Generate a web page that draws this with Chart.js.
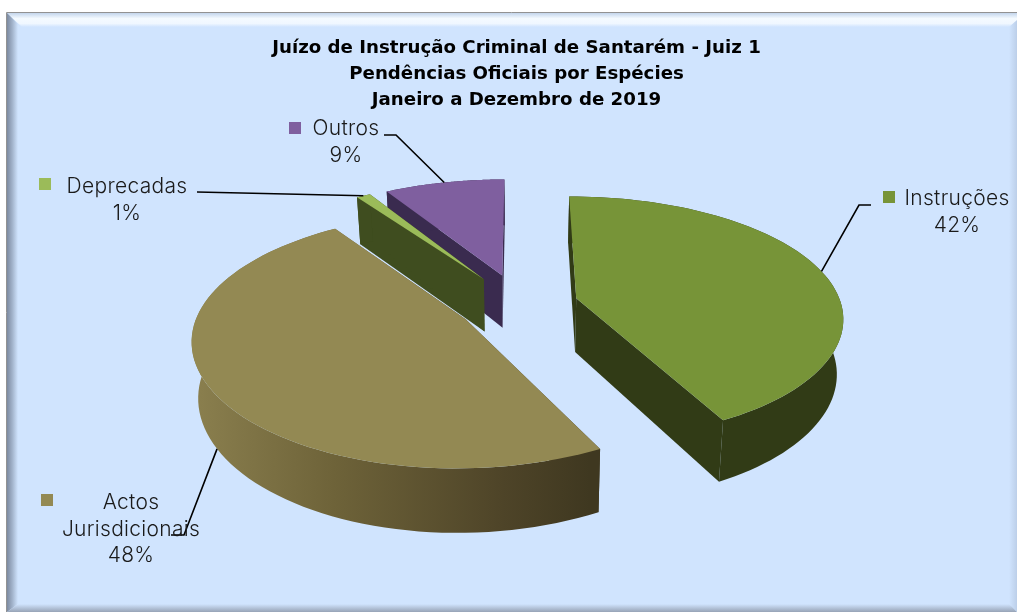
<!DOCTYPE html>
<html>
<head>
<meta charset="utf-8">
<title>Pendências Oficiais por Espécies</title>
<script src="https://cdn.jsdelivr.net/npm/chart.js@4"></script>
<style>
html, body { margin: 0; padding: 0; background: #fff; }
canvas { display: block; }
</style>
</head>
<body>
<canvas id="pie" width="1017" height="614"></canvas>
<script>
const titleLines = ['Juízo de Instrução Criminal de Santarém - Juiz 1', 'Pendências Oficiais por Espécies', 'Janeiro a Dezembro de 2019'];
const categories = ['Instruções', 'Actos Jurisdicionais', 'Deprecadas', 'Outros'];
const percentages = [42.4, 48.0, 1.0, 8.6];
const explosion = [22, 23.5, 26, 26];   // percent of radius, like excel
const topColors = ['#779438', '#938953', '#9bbb59', '#7f5f9f'];
const wallColors = ['#313b16', null, '#3f4d1f', '#3a2b4f'];

// label text lines, marker and leader line for each slice
const labelLines = [['Instruções'], ['Actos', 'Jurisdicionais'], ['Deprecadas'], ['Outros']];
const labelCenter = [[957, 199], [131, 503], [127, 187], [346, 129]];
const markerPos = [[883, 191], [41, 494], [39, 178], [289, 122]];
const leaderStart = [[[871, 205], [859, 205]], [[171, 535], [184, 535]], [[197, 192]], [[384, 135], [396, 135]]];

// camera for the 3d look
const camX = 520, camY = 304.5, camK = 265, camKy = 120, camP = 0.145, camPy = 0.16, camDepth = 54;

function project(X, Y, bottom) {
    var w = 1 + camP * Y;
    var x = camX + camK * X / w;
    var y = camY - camKy * Y / (1 + camPy * Y);
    if (bottom) {
        x = camX + (x - camX) * 0.98;
        y += camDepth / w;
    }
    return [x, y];
}

function sliceOutline(el) {
    var mid = (el.startAngle + el.endAngle) / 2;
    var e = el.options.offset / 100;
    var ox = e * Math.cos(mid), oy = -e * Math.sin(mid);
    var pts = [[ox, oy]];
    var steps = 80;
    for (var i = 0; i <= steps; i++) {
        var a = el.startAngle + (el.endAngle - el.startAngle) * i / steps;
        pts.push([ox + Math.cos(a), oy - Math.sin(a)]);
    }
    return pts;
}

function polygon(ctx, pts) {
    ctx.beginPath();
    ctx.moveTo(pts[0][0], pts[0][1]);
    for (var i = 1; i < pts.length; i++) ctx.lineTo(pts[i][0], pts[i][1]);
    ctx.closePath();
}

function hGrad(ctx, x0, x1, stops) {
    var g = ctx.createLinearGradient(x0, 0, x1, 0);
    stops.forEach((s) => g.addColorStop(s[0], s[1]));
    return g;
}

function vGrad(ctx, y0, y1, stops) {
    var g = ctx.createLinearGradient(0, y0, 0, y1);
    stops.forEach((s) => g.addColorStop(s[0], s[1]));
    return g;
}

const framePlugin = {
    id: 'frame',
    beforeDraw(chart) {
        var ctx = chart.ctx;
        ctx.save();
        ctx.fillStyle = '#fff';
        ctx.fillRect(0, 0, 1017, 614);
        ctx.fillStyle = '#d0e4fe';
        ctx.fillRect(7, 13, 1010, 599);

        ctx.fillStyle = vGrad(ctx, 13, 27, [[0, '#c4d6ec'], [0.4, '#f4faff'], [0.75, '#f0f7ff'], [1, '#d0e4fe']]);
        polygon(ctx, [[7, 13], [1017, 13], [1017, 27], [22, 27]]);
        ctx.fill();

        ctx.fillStyle = hGrad(ctx, 7, 18, [[0, '#7c8aa0'], [0.5, '#a3b4cc'], [1, '#d0e4fe']]);
        polygon(ctx, [[7, 13], [18, 24], [18, 604], [7, 612]]);
        ctx.fill();

        ctx.fillStyle = vGrad(ctx, 604, 612, [[0, '#d0e4fe'], [1, '#97a3b6']]);
        polygon(ctx, [[7, 612], [18, 604], [1010, 604], [1017, 612]]);
        ctx.fill();

        ctx.fillStyle = hGrad(ctx, 1009, 1017, [[0, '#d0e4fe'], [1, '#bccfe9']]);
        polygon(ctx, [[1009, 27], [1017, 20], [1017, 612], [1009, 604]]);
        ctx.fill();

        ctx.strokeStyle = '#929292';
        ctx.lineWidth = 1;
        ctx.beginPath();
        ctx.moveTo(6.5, 612);
        ctx.lineTo(6.5, 12.5);
        ctx.lineTo(1017, 12.5);
        ctx.stroke();
        ctx.restore();
    }
};

const pie3dPlugin = {
    id: 'pie3d',
    beforeDatasetsDraw(chart) {
        var ctx = chart.ctx;
        var arcs = chart.getDatasetMeta(0).data;
        var outlines = arcs.map(sliceOutline);
        // far slices first
        var order = arcs.map((el, i) => i).sort((a, b) => outlines[b][0][1] - outlines[a][0][1]);
        ctx.save();
        order.forEach((i) => {
            var pts = outlines[i];
            var apex = pts[0], rim = pts.slice(1);
            var wall = wallColors[i] || hGrad(ctx, 195, 590, [[0, '#8a7f4e'], [0.35, '#6e6339'], [0.78, '#4e4428'], [1, '#3f3820']]);
            ctx.fillStyle = wall;
            // two flat cut faces, then the curved band in one go so there are no seams
            [rim[0], rim[rim.length - 1]].forEach((p) => {
                polygon(ctx, [project(apex[0], apex[1]), project(p[0], p[1]), project(p[0], p[1], true), project(apex[0], apex[1], true)]);
                ctx.fill();
            });
            var band = rim.map((p) => project(p[0], p[1]));
            rim.slice().reverse().forEach((p) => band.push(project(p[0], p[1], true)));
            polygon(ctx, band);
            ctx.fill();

            ctx.fillStyle = arcs[i].options.backgroundColor;
            polygon(ctx, pts.map((p) => project(p[0], p[1])));
            ctx.fill();
        });
        drawLabels(chart, arcs);
        ctx.restore();
        return false;
    }
};

function drawLabels(chart, arcs) {
    var ctx = chart.ctx;
    var total = percentages.reduce((a, b) => a + b, 0);
    arcs.forEach((el, i) => {
        // leader line ends on the rim, at the middle of the slice
        var mid = (el.startAngle + el.endAngle) / 2;
        var e = el.options.offset / 100;
        var X = (1 + e) * Math.cos(mid), Y = -(1 + e) * Math.sin(mid);
        var tip = project(X, Y, i == 1);
        var line = leaderStart[i].concat([tip]);
        ctx.strokeStyle = '#000';
        ctx.lineWidth = 1.6;
        ctx.beginPath();
        ctx.moveTo(line[0][0], line[0][1]);
        for (var k = 1; k < line.length; k++) ctx.lineTo(line[k][0], line[k][1]);
        ctx.stroke();

        ctx.fillStyle = topColors[i];
        ctx.fillRect(markerPos[i][0], markerPos[i][1], 12, 12);

        ctx.fillStyle = '#1a1a1a';
        ctx.font = '300 21px Inter';
        ctx.letterSpacing = '0.3px';
        ctx.textAlign = 'center';
        ctx.textBaseline = 'middle';
        var rows = labelLines[i].concat([Math.round(percentages[i] / total * 100) + '%']);
        rows.forEach((row, r) => {
            ctx.fillText(row, labelCenter[i][0], labelCenter[i][1] + r * 26.5);
        });
        ctx.letterSpacing = '0px';
    });
}

new Chart(document.getElementById('pie'), {
    type: 'pie',
    data: {
        labels: categories,
        datasets: [{
            data: percentages,
            backgroundColor: topColors,
            offset: explosion,
            borderWidth: 0
        }]
    },
    options: {
        responsive: false,
        animation: false,
        layout: { padding: { left: 16 } },
        plugins: {
            legend: { display: false },
            tooltip: { enabled: false },
            title: {
                display: true,
                text: titleLines,
                color: '#000',
                font: { family: 'DejaVu Sans', size: 18.2, weight: 'bold', lineHeight: 1.43 },
                padding: { top: 35, bottom: 0 }
            }
        }
    },
    plugins: [framePlugin, pie3dPlugin]
});
</script>
</body>
</html>
